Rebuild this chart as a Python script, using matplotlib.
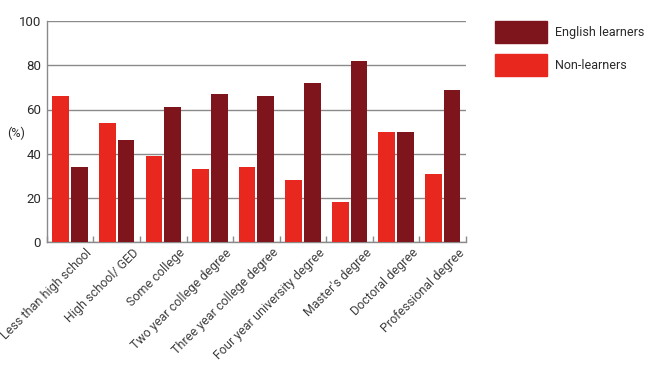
import matplotlib
matplotlib.use('agg')
import matplotlib.pyplot as plt
from matplotlib.patches import Rectangle
import numpy as np

plt.rcParams['font.family'] = ['Roboto', 'DejaVu Sans']

# education levels and shares (%)
categories = ['Less than high school', 'High school/ GED', 'Some college',
              'Two year college degree', 'Three year college degree',
              'Four year university degree', "Master's degree",
              'Doctoral degree', 'Professional degree']
non_learners = [66, 54, 39, 33, 34, 28, 18, 50, 31]
english_learners = [34, 46, 61, 67, 66, 72, 82, 50, 69]
series_names = ['English learners', 'Non-learners']
y_ticks = [0, 20, 40, 60, 80, 100]

red = '#e8281f'
dark_red = '#7f151c'
grid_col = '#8a8a8a'
text_col = '#2a2a2a'

fig = plt.figure(figsize=(6.5, 3.65), dpi=100)
ax = fig.add_axes([0.072, 0.337, 0.645, 0.605])

x = np.arange(len(categories))
w = 0.36
b2 = ax.bar(x + 0.2, english_learners, w, color=dark_red, zorder=3)
b1 = ax.bar(x - 0.2, non_learners, w, color=red, zorder=3)

ax.set_xlim(-0.5, len(categories) - 0.5)
ax.set_ylim(0, 100)
ax.set_yticks(y_ticks)
ax.tick_params(axis='y', length=0, labelsize=9.5, colors=text_col, pad=4)
ax.yaxis.grid(True, color=grid_col, linewidth=1)
ax.set_axisbelow(True)

# labels end near the right edge of each group, small tick marks on group boundaries
ax.set_xticks(x + 0.33)
ax.set_xticklabels(categories, rotation=45, ha='right', va='top', rotation_mode='anchor',
                   fontsize=9, color='#404040')
ax.tick_params(axis='x', which='major', length=0, pad=3)
ax.set_xticks(np.arange(-0.5, len(categories)), minor=True)
ax.tick_params(axis='x', which='minor', direction='in', length=4, color=grid_col, width=1)

for s in ['top', 'right']:
    ax.spines[s].set_visible(False)
for s in ['left', 'bottom']:
    ax.spines[s].set_color(grid_col)
    ax.spines[s].set_linewidth(1)

fig.text(0.011, 0.636, '(%)', fontsize=9, color=text_col, va='center')

# legend drawn as swatches to the right of the plot
for i, (name, col) in enumerate(zip(series_names, [dark_red, red])):
    top = 0.9425 - i * 0.0905
    fig.add_artist(Rectangle((0.7615, top - 0.0605), 0.08, 0.0605,
                             transform=fig.transFigure, color=col))
    fig.text(0.854, top - 0.031, name, fontsize=9, color=text_col, va='center')

fig.savefig('out.png')
